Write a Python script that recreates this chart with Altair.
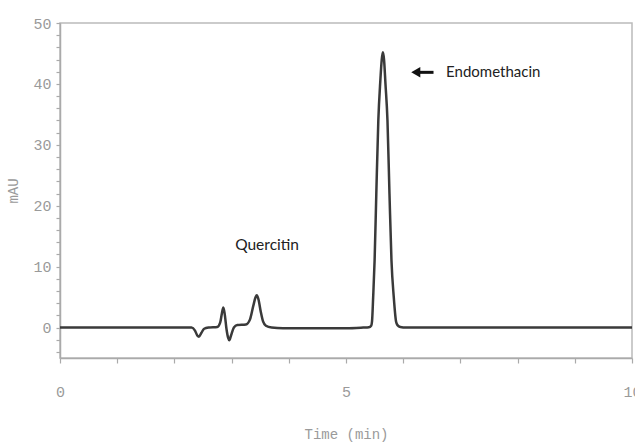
import altair as alt
import pandas as pd

# Chromatogram trace (time in min, absorbance in mAU)
time_min = [0.0, 1.0, 2.0, 2.30, 2.36, 2.40, 2.43, 2.47, 2.52, 2.60, 2.75, 2.80, 2.83, 2.855,
            2.88, 2.91, 2.94, 2.96, 2.99, 3.04, 3.10, 3.25, 3.32, 3.38, 3.42, 3.44, 3.47,
            3.51, 3.55, 3.60, 3.70, 3.90, 4.50, 5.00, 5.30, 5.40, 5.44, 5.455, 5.475, 5.50,
            5.53, 5.565, 5.60, 5.625, 5.645, 5.665, 5.69, 5.725, 5.76, 5.795, 5.835, 5.875,
            5.90, 5.95, 6.05, 7.0, 8.0, 9.0, 10.0]
mau = [0.0, 0.0, 0.0, 0.0, -0.5, -1.3, -1.5, -0.9, -0.2, 0.0, 0.1, 0.8, 2.3, 3.3,
       2.2, -0.2, -1.7, -2.1, -1.3, 0.0, 0.4, 0.5, 1.3, 3.6, 5.0, 5.3, 4.6,
       2.6, 1.0, 0.3, 0.0, -0.1, -0.1, -0.1, 0.0, 0.05, 0.3, 1.0, 5.0, 11.0,
       22.0, 34.0, 40.5, 44.0, 45.2, 44.0, 40.0, 34.0, 22.0, 11.0, 5.0, 1.0,
       0.4, 0.1, 0.0, 0.0, 0.0, 0.0, 0.0]

# Annotations
label_text = ["Quercitin", "Endomethacin"]
label_time = [3.62, 6.75]
label_mau = [13.5, 42.0]
label_align = ["center", "left"]
arrow_start = [6.22]
arrow_end = [6.53]
arrow_mau = [41.9]

# Axis ticks
x_ticks = list(range(0, 11))
y_ticks = list(range(-4, 51, 2))

trace = pd.DataFrame({"t": time_min, "v": mau})
q_lab = pd.DataFrame({"text": label_text[:1], "t": label_time[:1], "v": label_mau[:1]})
e_lab = pd.DataFrame({"text": label_text[1:], "t": label_time[1:], "v": label_mau[1:]})
arrow = pd.DataFrame({"t": arrow_start, "t2": arrow_end, "v": arrow_mau})

xscale = alt.Scale(domain=[0, 10], nice=False, zero=False)
yscale = alt.Scale(domain=[-5, 50], nice=False, zero=False)

axis_common = dict(
    grid=False,
    domainColor="#aaaaaa",
    domainWidth=1.5,
    tickColor="#aaaaaa",
    tickWidth=1.2,
    labelFont="Liberation Mono",
    labelFontSize=15,
    labelColor="#9a9a9a",
    labelFlush=False,
    titleFont="Liberation Mono",
    titleFontSize=14,
    titleFontWeight="normal",
    titleColor="#9a9a9a",
)

X = alt.X("t:Q", scale=xscale, title="Time (min)",
          axis=alt.Axis(values=x_ticks, tickSize=5, labelPadding=21, format="d",
                        labelExpr="datum.value % 5 == 0 ? datum.label : ''",
                        titlePadding=28, **axis_common))
Y = alt.Y("v:Q", scale=yscale, title="mAU",
          axis=alt.Axis(values=y_ticks, tickSize=4, labelPadding=5, format="d",
                        labelExpr="datum.value % 10 == 0 ? datum.label : ''",
                        titlePadding=12, **axis_common))

line = alt.Chart(trace).mark_line(
    color="#3a3a3a", strokeWidth=2.5, interpolate="monotone"
).encode(x=X, y=Y)

text_q = alt.Chart(q_lab).mark_text(
    font="Lato", fontSize=15.5, color="#222222", align=label_align[0], baseline="middle"
).encode(x=X, y=Y, text="text:N")
text_e = alt.Chart(e_lab).mark_text(
    font="Lato", fontSize=15, color="#222222", align=label_align[1], baseline="middle"
).encode(x=X, y=Y, text="text:N")

shaft = alt.Chart(arrow).mark_rule(color="#111111", strokeWidth=3).encode(
    x=X, x2="t2:Q", y=Y)
head = alt.Chart(arrow).mark_point(
    shape="triangle-left", filled=True, color="#111111", size=110, opacity=1
).encode(x=X, y=Y)

chart = alt.layer(line, text_q, text_e, shaft, head).properties(
    width=572, height=335,
    padding={"left": 60, "top": 23, "right": 3, "bottom": 86},
    autosize=alt.AutoSizeParams(type="none"),
    background="white",
).configure_view(stroke="#bbbbbb", strokeWidth=1.5)

chart.save("out.html", embed_options={"renderer": "svg", "actions": False})
